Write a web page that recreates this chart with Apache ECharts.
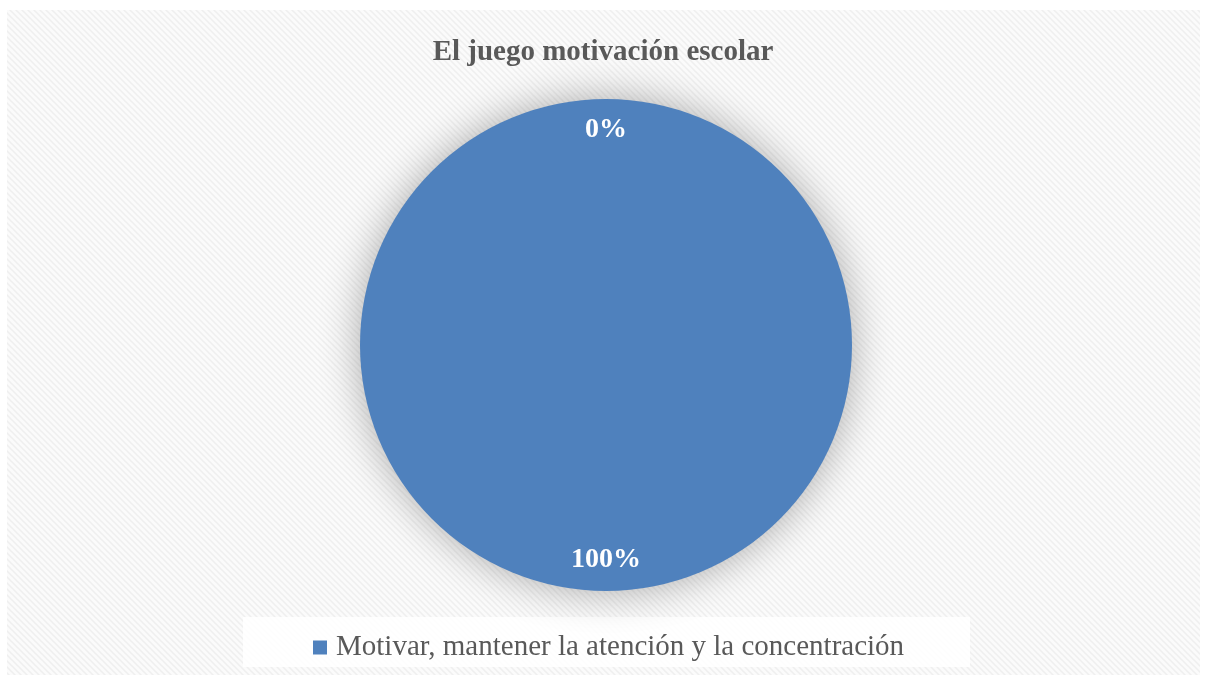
<!DOCTYPE html>
<html>
<head>
<meta charset="utf-8">
<script src="https://cdn.jsdelivr.net/npm/echarts@6/dist/echarts.min.js"></script>
<style>
  html, body { margin: 0; padding: 0; background: #fff; }
  #chart { width: 1206px; height: 678px; }
</style>
</head>
<body>
<div id="chart"></div>
<script>
const titleText = 'El juego motivación escolar'
const categories = ['Motivar, mantener la atención y la concentración', '']
const values = [100, 0]
const colors = ['#4f81bd', '#c0504d']

// diagonal hatch pattern like the office chart area
const makePattern = () => {
  const c = document.createElement('canvas')
  c.width = 6
  c.height = 6
  const ctx = c.getContext('2d')
  ctx.fillStyle = '#fbfbfb'
  ctx.fillRect(0, 0, 6, 6)
  ctx.strokeStyle = '#efefef'
  ctx.lineWidth = 1.5
  ctx.beginPath()
  ctx.moveTo(-1, -1); ctx.lineTo(7, 7)
  ctx.moveTo(-4, 2); ctx.lineTo(4, 10)
  ctx.moveTo(2, -4); ctx.lineTo(10, 4)
  ctx.stroke()
  return c
}

const chart = echarts.init(document.getElementById('chart'))
const pieData = categories.map((name, i) => ({
  name: name,
  value: values[i],
  itemStyle: { color: colors[i] }
}))

const option = {
  backgroundColor: '#ffffff',
  animation: false,
  graphic: [
    {
      type: 'rect', z: -10, silent: true,
      shape: { x: 7, y: 10, width: 1193, height: 665 },
      style: { fill: { image: makePattern(), repeat: 'repeat' } }
    },
    {
      type: 'rect', z: -9, silent: true,
      shape: { x: 243, y: 617, width: 727, height: 50 },
      style: { fill: 'rgba(255,255,255,0.85)' }
    }
  ],
  title: {
    text: titleText,
    left: 'center',
    top: 33,
    textStyle: {
      fontFamily: 'Liberation Serif',
      fontWeight: 'bold',
      fontSize: 29,
      color: '#595959'
    }
  },
  legend: {
    data: [categories[0]],
    top: 628,
    left: 308,
    icon: 'rect',
    itemWidth: 14,
    itemHeight: 14,
    itemGap: 10,
    textStyle: {
      fontFamily: 'Liberation Serif',
      fontSize: 29,
      color: '#595959',
      padding: [0, 0, 0, 4]
    }
  },
  series: [
    {
      type: 'pie',
      center: [606, 345],
      radius: [0, 246],
      startAngle: 90,
      data: pieData,
      label: { show: false },
      labelLine: { show: false },
      itemStyle: {
        shadowBlur: 40,
        shadowColor: 'rgba(0,0,0,0.32)',
        shadowOffsetX: 0,
        shadowOffsetY: 0
      },
      emphasis: { disabled: true }
    },
    {
      // label ring only, keeps labels near the rim
      type: 'pie',
      center: [606, 345],
      radius: [188, 236],
      startAngle: 90,
      silent: true,
      data: pieData.map(d => ({ name: d.name, value: d.value })),
      itemStyle: { color: 'rgba(0,0,0,0)' },
      label: {
        show: true,
        position: 'inside',
        formatter: p => Math.round(p.percent) + '%',
        fontFamily: 'Liberation Serif',
        fontWeight: 'bold',
        fontSize: 28,
        color: '#ffffff'
      },
      labelLine: { show: false },
      emphasis: { disabled: true }
    }
  ]
}

chart.setOption(option)
</script>
</body>
</html>
